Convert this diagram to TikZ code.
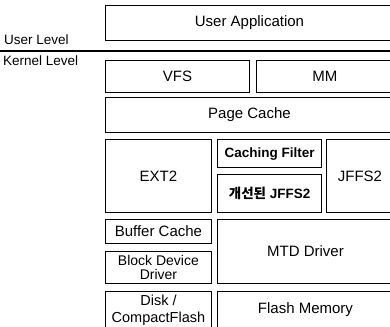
\documentclass[tikz,border=0pt]{standalone}
\usepackage{fontspec}
\setmainfont{Liberation Sans}
\newfontfamily\krfont{Noto Sans CJK KR}
\begin{document}
\begin{tikzpicture}[x=1pt,y=-1pt,
  layerbox/.style={draw=black, line width=0.9pt, inner sep=0pt, anchor=north west,
    align=center, font=\fontsize{15}{16}\selectfont},
  boldbox/.style={layerbox, line width=1.3pt, font=\fontsize{13.5}{15}\selectfont\bfseries},
  levellabel/.style={anchor=base west, inner sep=0pt, font=\fontsize{13.5}{14}\selectfont}]
\useasboundingbox (0,0) rectangle (390,326);
\clip (0,0) rectangle (390,326);
% user level
\node[layerbox, minimum width=288, minimum height=35] (ua) at (105,5) {User Application};
\node[levellabel] (ul) at (4,45) {User Level};
\coordinate (sepl) at (0,51);
\coordinate (sepr) at (390,51);
\draw[line width=1.8pt] (sepl) -- (sepr);
\node[levellabel] (kl) at (3,66) {Kernel Level};
% kernel
\node[layerbox, minimum width=144, minimum height=32] (vfs) at (105,60) {VFS};
\node[layerbox, minimum width=137, minimum height=32] (mm) at (256,60) {MM};
\node[layerbox, minimum width=288, minimum height=35] (pc) at (105,97) {Page Cache};
\node[layerbox, minimum width=106, minimum height=73] (ext) at (105,139) {EXT2};
\node[boldbox, minimum width=104, minimum height=28] (cf) at (217,139) {Caching Filter};
\node[boldbox, minimum width=104, minimum height=38] (nj) at (217,174) {{\krfont\bfseries 개선된} JFFS2};
\node[layerbox, minimum width=67, minimum height=73] (jf) at (326,139) {JFFS2};
\node[layerbox, minimum width=106, minimum height=24] (bc) at (105,219) {Buffer Cache};
\node[layerbox, minimum width=106, minimum height=32, font=\fontsize{14}{14.5}\selectfont] (bd) at (105,251) {Block Device\\Driver};
\node[layerbox, minimum width=176, minimum height=64] (mtd) at (217,219) {MTD Driver};
\node[layerbox, minimum width=106, minimum height=37, font=\fontsize{14.5}{17}\selectfont] (dk) at (105,291) {Disk /\\CompactFlash};
\node[layerbox, minimum width=176, minimum height=37] (fm) at (217,291) {Flash Memory};
\end{tikzpicture}
\end{document}
